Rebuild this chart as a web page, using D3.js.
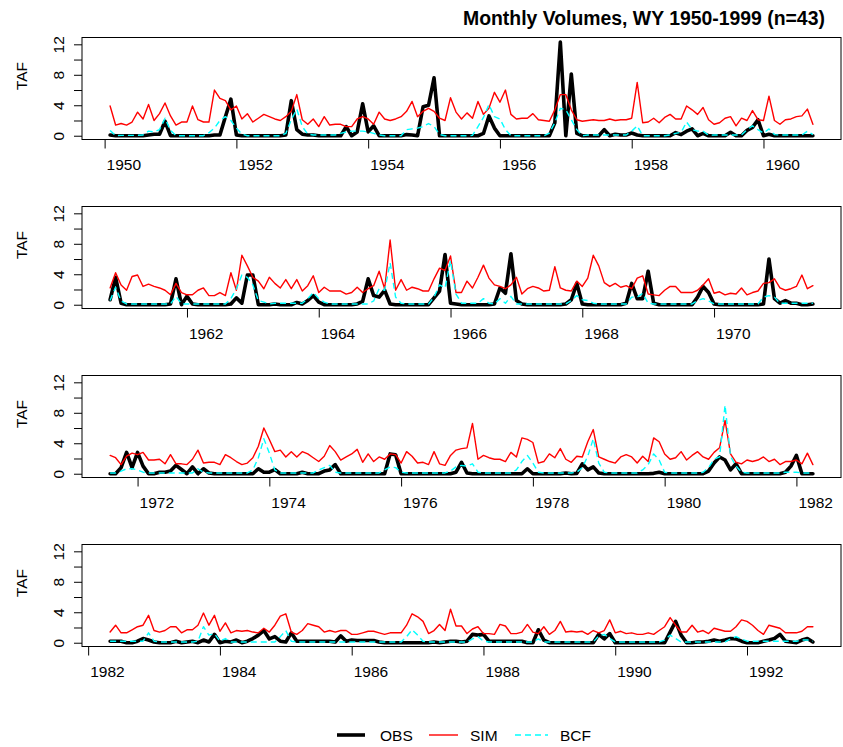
<!DOCTYPE html>
<html>
<head>
<meta charset="utf-8">
<script src="https://cdn.jsdelivr.net/npm/d3@7"></script>
<style>
  html, body { margin: 0; padding: 0; background: #fff; }
  svg { display: block; font-family: "Liberation Sans", Arial, sans-serif; }
</style>
</head>
<body>
<div id="chart"></div>
<script>
// monthly volumes (TAF), 129 months per panel
const panelStartYear  = [1950, 1960, 1971, 1982];
const panelStartMonth = [1, 10, 7, 4];
const xTickYears = [
  [1950, 1952, 1954, 1956, 1958, 1960],
  [1962, 1964, 1966, 1968, 1970],
  [1972, 1974, 1976, 1978, 1980, 1982],
  [1982, 1984, 1986, 1988, 1990, 1992]
];
const yTicks = [0, 2, 4, 6, 8, 10, 12];
const yLabels = [0, 4, 8, 12];
const yMax = 12.4;
const seriesNames = ['OBS', 'SIM', 'BCF'];

const obs1 = [0.1,0,0,0,0,0,0,0.1,0.2,0.2, 1.9,0,0,0,0,0,0,0,0,0.1,
  0.1,2.5,4.8,0.1,0,0,0,0,0,0, 0,0,0.1,4.6,0.8,0.2,0.1,0.1,0,0,
  0,0,0,1.2,0,0.5,4.2,0.5,1.3,0, 0,0,0,0,0.15,0.1,0,3.8,4.0,7.6,
  0,0,0,0,0,0,0,0,0.3,2.6, 1.0,0,0,0,0,0,0,0,0,0,
  0,1.7,12.3,0,8.1,0.3,0,0,0,0, 0.8,0,0.2,0.1,0.1,0.35,0.1,0,0,0,
  0,0,0,0.4,0.15,0.6,0.9,0,0.3,0, 0,0,0,0.45,0,0,0.7,1.1,2.1,0,
  0.2,0,0,0,0,0,0,0,0];
const sim1 = [3.9,1.4,1.6,1.4,1.8,3.1,2.2,4.1,2.0,2.9, 4.3,2.6,1.4,1.8,1.8,3.9,2.1,1.8,1.8,6.0,
  4.9,4.6,3.4,3.9,2.2,2.9,1.8,2.3,2.8,2.5, 2.2,2.0,2.5,3.2,5.4,2.1,1.5,2.2,1.2,2.5,
  1.4,1.5,1.5,1.2,1.2,2.2,2.5,2.2,1.5,3.1, 2.2,2.0,2.2,2.5,3.2,4.5,2.5,3.2,3.6,3.2,
  2.3,2.0,5.0,3.1,2.2,3.0,2.3,4.5,2.8,3.6, 5.7,4.4,6.0,2.8,2.2,2.3,2.3,2.9,2.1,2.0,
  1.9,3.4,5.4,5.4,3.4,2.1,1.9,2.0,2.1,2.0, 2.0,2.2,2.0,2.1,2.1,2.3,7.0,1.7,1.8,2.3,
  1.7,2.4,2.8,2.2,2.2,3.9,3.4,2.8,3.7,2.1, 1.5,1.7,2.3,2.5,1.3,2.3,2.0,3.3,2.1,2.0,
  5.2,2.0,1.5,2.1,2.2,2.5,2.6,3.5,1.5];
const bcf1 = [0.7,0,0.05,0.05,0.05,0.05,0.1,0.6,0.5,0.8, 2.3,0.7,0,0,0,0,0,0,0.4,1.0,
  2.0,2.5,2.0,1.0,0.2,0,0,0,0,0, 0,0,0.3,2.1,3.5,1.2,0.2,0.1,0.1,0.1,
  0.1,0.1,0.3,0.5,0.6,0.6,0.6,0.5,0.3,0.1, 0,0,0,0,0.8,0.9,1.0,1.2,1.6,1.2,
  0.15,0,0,0,0,0,0.05,1.2,2.4,4.1, 2.5,2.2,0.8,0,0,0,0,0,0,0,
  0.35,1.7,3.6,3.4,2.1,0.8,0,0.1,0.1,0.1, 0.1,0.1,0.1,0.1,0.1,0.6,1.3,0,0,0,
  0,0,0.1,0.3,0.45,1.8,0.8,0.6,0.6,0.05, 0.1,0.1,0.1,0.1,0.1,0.1,0.8,1.3,0.8,0.35,
  0.9,0.15,0.1,0.1,0.1,0.1,0.1,0.6,0.15];

const obs2 = [0.65,3.6,0.2,0,0,0,0,0,0,0, 0,0.1,3.4,0,1.1,0.1,0,0,0,0,
  0,0,0.1,0.9,0.2,3.9,3.9,0,0,0, 0.1,0,0,0,0.3,0.1,0.55,1.2,0.35,0,
  0,0,0,0,0,0.1,0.45,3.4,1.2,1.0, 1.9,0.1,0,0,0,0,0,0,0,0.9,
  1.8,6.6,0.2,0.1,0,0,0,0,0,0, 0.1,2.2,1.5,6.7,0.55,0.1,0,0,0,0,
  0,0,0,0.1,0.65,2.8,0.1,0,0,0, 0,0,0,0,0.2,2.8,0.8,0.8,4.4,0.2,
  0,0,0,0,0,0,0,1.0,2.4,1.6, 0.1,0,0,0,0,0,0,0,0,0.1,
  6.0,0.8,0.2,0.55,0.2,0.2,0,0,0.1];
const sim2 = [2.2,4.2,2.6,1.9,3.7,3.9,2.4,2.7,2.4,2.2, 1.9,1.3,2.8,1.6,1.3,1.3,1.9,2.2,1.2,1.2,
  1.6,1.2,4.2,1.9,6.5,5.1,3.6,3.1,2.1,3.6, 2.8,2.2,3.3,2.1,3.3,1.8,2.5,3.8,1.6,2.3,
  1.8,1.8,1.8,1.4,1.6,2.3,1.6,2.1,2.5,4.4, 2.1,8.5,1.9,3.3,1.9,2.3,2.1,1.8,1.8,3.4,
  4.8,4.5,6.4,1.6,1.6,3.1,2.2,3.6,5.2,3.5, 2.6,2.4,2.1,2.6,3.6,1.4,2.1,2.4,2.2,1.8,
  1.9,5.0,2.2,1.9,1.8,3.1,2.4,3.5,6.5,5.1, 2.9,2.4,2.8,2.3,2.5,2.1,3.5,3.8,1.4,1.3,
  1.2,1.9,2.4,2.4,1.6,1.6,1.6,1.9,2.6,3.4, 1.5,1.7,1.3,1.5,1.4,2.2,1.3,1.6,1.8,2.8,
  2.9,3.4,2.2,1.9,2.1,2.4,3.9,2.1,2.5];
const bcf2 = [0.55,2.3,0.5,0.1,0.1,0.1,0.1,0.1,0.1,0.1, 0.1,0.1,1.1,0.1,0.1,0.1,0.1,0.1,0.1,0.1,
  0.1,0.1,0.8,2.1,3.9,3.6,2.6,0.55,0.35,0.1, 0.2,0.2,0.2,0.2,0.2,0.2,0.8,1.6,0.8,0.35,
  0.1,0.1,0.1,0.1,0.1,0.1,0.1,0.1,0.5,2.1, 1.9,5.5,1.0,0.2,0.1,0.1,0.1,0.1,0.1,1.0,
  2.6,2.2,5.8,1.4,0.2,0.2,0.2,0.2,0.8,0.2, 0.1,0.8,0.2,1.1,0.1,0.1,0.1,0.1,0.1,0.1,
  0.1,0.1,0.1,0.1,0.55,1.2,0.65,0.55,0.2,0.1, 0.1,0.1,0.1,0.1,0.1,1.0,1.0,1.5,0.2,0.1,
  0.1,0.1,0.1,0.1,0.1,0.1,0.1,0.55,0.8,0.5, 0.1,0.1,0.1,0.1,0.1,0.1,0.1,0.1,0.1,1.0,
  1.2,1.0,0.2,0.2,0.2,0.2,0.2,0.2,0.2];

const obs3 = [0,0,0.8,2.8,0.8,2.8,1.0,0,0,0.2, 0.2,0.35,1.1,0.55,0,0.9,0,0.65,0.1,0,
  0,0,0,0,0,0,0,0.65,0.2,0.2, 0.55,0,0,0,0,0.2,0,0,0,0.35,
  0.5,1.2,0,0,0,0,0,0,0,0, 0,2.6,2.5,0,0,0,0,0,0,0,
  0,0,0,0.2,1.5,0.1,0,0,0,0, 0,0,0,0,0,0,0.65,0,0,0,
  0,0,0,0.1,0,0.05,1.3,0.5,0.9,0.1, 0,0,0,0,0,0,0,0,0,0.05,
  0.2,0,0,0,0,0,0,0,0,0.35, 1.4,2.2,1.8,0.5,1.3,0,0,0,0,0,
  0,0,0,0.2,1.0,2.4,0,0,0];
const sim3 = [2.4,2.1,1.2,2.3,2.7,2.5,2.8,1.8,1.8,1.9, 1.3,2.5,1.3,1.3,1.2,1.9,3.1,1.4,1.5,1.5,
  1.2,2.5,2.1,1.6,1.2,1.4,2.1,3.6,6.0,4.5, 2.9,3.1,2.2,2.9,2.2,2.9,2.6,2.1,1.6,2.3,
  3.7,2.9,1.8,2.2,2.6,3.2,1.5,2.6,1.6,2.2, 1.9,2.6,2.5,1.4,2.9,2.3,1.4,1.5,1.2,2.9,
  1.3,1.1,2.4,3.1,3.3,3.4,6.6,1.9,2.4,2.1, 1.9,1.9,1.6,2.8,2.2,4.7,4.5,4.1,1.4,1.6,
  2.6,2.1,3.3,1.9,1.5,2.3,2.2,4.2,5.8,2.2, 1.9,1.6,1.4,2.2,2.5,2.2,1.4,2.3,1.6,4.7,
  4.2,2.6,1.9,2.1,2.9,1.8,2.4,2.9,2.2,1.9, 2.8,3.4,7.0,2.6,1.5,1.3,1.8,1.6,1.8,2.2,
  1.6,1.9,1.2,1.6,1.6,1.8,1.3,2.7,1.2];
const bcf3 = [0.1,0.1,0.35,0.65,0.65,0.5,0.2,0.1,0.1,0.1, 0.1,0.1,0.1,0.1,0.1,0.1,0.65,0.2,0.1,0.1,
  0.1,0.1,0.1,0.1,0.1,0.1,0.5,2.1,4.6,2.7, 0.5,0.1,0.1,0.1,0.1,0.1,0.1,0.1,0.5,0.8,
  1.1,0.2,0.1,0.1,0.1,0.1,0.1,0.1,0.1,0.1, 0.5,0.9,0.8,0.2,0.1,0.1,0.1,0.1,0.1,0.1,
  0.1,0.1,0.35,0.9,1.1,1.0,1.3,0.2,0.1,0.1, 0.1,0.1,0.1,0.1,0.5,1.6,2.4,1.4,0.2,0.1,
  0.1,0.1,0.1,0.1,0.1,0.2,0.8,2.3,4.6,1.4, 0.2,0.1,0.1,0.1,0.1,0.1,0.1,0.5,1.2,2.6,
  1.8,0.2,0.1,0.1,0.1,0.1,0.1,0.1,0.2,0.8, 1.9,2.2,9.0,2.3,1.0,0.2,0.1,0.1,0.1,0.1,
  0.1,0.1,0.1,0.2,0.2,0.2,0.1,0.1,0.1];

const obs4 = [0.2,0.2,0.2,0,0,0.2,0.55,0.35,0.1,0, 0,0,0.2,0,0.1,0.2,0,0.35,0.1,1.1,
  0,0.2,0.1,0.35,0,0.2,0.55,1.0,1.6,0.5, 0.8,0.2,0.1,1.3,0.2,0.2,0.2,0.2,0.2,0.2,
  0.2,0.1,0.9,0.2,0.35,0.3,0.3,0.3,0.3,0.1, 0,0,0,0,0,0,0,0,0,0.1,
  0,0.1,0.2,0.2,0.1,0.2,1.1,1.0,1.1,0.2, 0.2,0.2,0.2,0.2,0.2,0.2,0,0,1.7,0.35,
  0,0,0,0,0,0,0,0,0,1.1, 0.5,1.2,0,0,0,0,0,0,0,0,
  0,0,1.4,2.8,1.0,0,0,0.1,0.1,0.2, 0.35,0.2,0.35,0.55,0.5,0.2,0,0,0,0.2,
  0.35,0.55,1.1,0.2,0.1,0,0.35,0.55,0.1];
const sim4 = [1.4,2.3,1.3,1.3,1.7,2.1,2.3,3.6,1.6,1.4, 1.6,2.1,2.1,1.3,1.7,1.7,2.3,3.9,2.3,3.6,
  1.5,2.6,1.3,1.6,1.5,1.6,1.4,1.3,1.9,1.4, 2.3,3.5,3.8,1.4,1.1,1.6,2.5,2.3,2.1,1.4,
  1.6,1.4,1.6,1.6,1.1,1.1,1.3,1.5,1.5,1.3, 1.1,1.3,1.3,1.3,2.3,3.8,3.4,2.8,1.2,1.6,
  2.4,1.6,4.4,2.2,2.2,1.2,1.8,2.1,1.2,1.2, 1.1,2.4,2.2,1.2,1.2,1.4,2.4,1.4,1.2,2.1,
  1.1,1.6,2.8,1.4,1.5,1.4,1.5,1.1,1.6,1.3, 1.6,3.0,1.3,1.5,1.2,1.3,1.1,1.1,1.3,1.1,
  1.6,2.1,3.3,2.3,1.4,1.4,2.3,1.4,1.6,1.2, 1.9,1.7,1.5,1.5,2.1,3.0,2.8,2.3,1.6,1.1,
  2.3,2.1,1.9,1.3,1.3,1.3,1.5,2.1,2.1];
const bcf4 = [0.2,0.2,0.2,0.2,0.2,0.2,0.2,1.3,0.2,0.1, 0.1,0.1,0.1,0.1,0.1,0.1,0.2,2.1,1.0,1.2,
  0.2,0.55,0.1,0.1,0.1,0.1,0.1,0.1,0.1,0.1, 0.1,0.8,1.6,0.2,0.1,0.1,0.1,0.1,0.1,0.1,
  0.1,0.1,0.1,0.1,0.1,0.1,0.1,0.1,0.1,0.1, 0.1,0.1,0.1,0.1,0.8,1.7,1.0,0.2,0.1,0.1,
  0.1,0.1,0.1,0.1,0.1,0.1,0.5,0.8,0.2,0.1, 0.1,0.1,0.1,0.1,0.1,0.1,0.1,0.1,0.5,0.1,
  0.1,0.1,0.1,0.1,0.1,0.1,0.1,0.1,0.1,0.9, 1.1,0.55,0.1,0.1,0.1,0.1,0.1,0.1,0.1,0.1,
  0.1,0.35,1.0,0.55,0.1,0.1,0.1,0.1,0.1,0.1, 0.1,0.1,0.1,0.5,0.8,0.5,0.2,0.2,0.2,0.2,
  0.2,0.2,0.2,0.2,0.2,0.2,0.35,0.35,0.2];

const panels = [
  { obs: obs1, sim: sim1, bcf: bcf1 },
  { obs: obs2, sim: sim2, bcf: bcf2 },
  { obs: obs3, sim: sim3, bcf: bcf3 },
  { obs: obs4, sim: sim4, bcf: bcf4 }
];

const W = 843, H = 747;
const left = 82, right = 841;
const top0 = 37.5, step = 169, boxH = 102;
const FONT = 15.5;

const styles = {
  OBS: { color: '#000000', width: 3.6, dash: null },
  SIM: { color: '#ff0000', width: 1.4, dash: null },
  BCF: { color: '#00ffff', width: 1.4, dash: '6,4' }
};

const svg = d3.select('#chart').append('svg')
  .attr('width', W).attr('height', H)
  .attr('viewBox', `0 0 ${W} ${H}`);

svg.append('text')
  .attr('x', 463).attr('y', 25)
  .attr('font-size', 19.4).attr('font-weight', 'bold')
  .text('Monthly Volumes, WY 1950-1999 (n=43)');

panels.forEach((p, k) => {
  const top = top0 + step * k, bottom = top + boxH;
  const t0 = panelStartYear[k] + panelStartMonth[k] / 12;
  const t1 = t0 + (p.obs.length - 1) / 12;
  const pad = (t1 - t0) * 0.04;
  const x = d3.scaleLinear().domain([t0 - pad, t1 + pad]).range([left, right]);
  const y = d3.scaleLinear().domain([-yMax * 0.04, yMax * 1.04]).range([bottom, top]);

  const g = svg.append('g');

  // x axis
  const xa = g.append('g').attr('transform', `translate(0,${bottom})`)
    .call(d3.axisBottom(x).tickValues(xTickYears[k]).tickSize(9).tickFormat(d3.format('d')));
  xa.select('.domain').remove();
  xa.selectAll('line').attr('stroke', '#000');
  xa.selectAll('text')
    .attr('text-anchor', 'start').attr('x', 1.5).attr('y', 30).attr('dy', null)
    .attr('font-size', FONT).attr('font-family', null).attr('fill', '#000');

  // y axis
  const ya = g.append('g').attr('transform', `translate(${left},0)`)
    .call(d3.axisLeft(y).tickValues(yTicks).tickSize(8)
      .tickFormat(d => yLabels.includes(d) ? d : ''));
  ya.select('.domain').remove();
  ya.selectAll('line').attr('stroke', '#000');
  ya.selectAll('text')
    .attr('x', null).attr('dy', null)
    .attr('text-anchor', 'middle').attr('font-size', FONT).attr('font-family', null).attr('fill', '#000')
    .attr('transform', function () {
      const yy = d3.select(this.parentNode).attr('transform').match(/,([\d.\-]+)\)/);
      return `translate(${64 - left},0) rotate(-90)`;
    });

  g.append('text')
    .attr('transform', `translate(26.5,${top + 38.5}) rotate(-90)`)
    .attr('text-anchor', 'middle').attr('font-size', FONT)
    .text('TAF');

  const clipId = 'clip' + k;
  svg.append('clipPath').attr('id', clipId).append('rect')
    .attr('x', left).attr('y', top).attr('width', right - left).attr('height', boxH);

  const line = d3.line().x((d, i) => x(t0 + i / 12)).y(d => y(d));
  const plot = g.append('g').attr('clip-path', `url(#${clipId})`);
  [['OBS', p.obs], ['SIM', p.sim], ['BCF', p.bcf]].forEach(([name, vals]) => {
    const s = styles[name];
    plot.append('path').datum(vals)
      .attr('d', line)
      .attr('fill', 'none')
      .attr('stroke', s.color)
      .attr('stroke-width', s.width)
      .attr('stroke-linejoin', 'round')
      .attr('stroke-linecap', s.dash ? 'butt' : 'round')
      .attr('stroke-dasharray', s.dash);
  });

  g.append('rect')
    .attr('x', left).attr('y', top).attr('width', right - left).attr('height', boxH)
    .attr('fill', 'none').attr('stroke', '#000').attr('stroke-width', 1);
});

// legend
const legY = 735;
const legendX = { OBS: [337, 365, 380], SIM: [429, 458, 470], BCF: [515, 548, 560] };
const leg = svg.append('g');
seriesNames.forEach(name => {
  const s = styles[name];
  const [x1, x2, tx] = legendX[name];
  leg.append('line')
    .attr('x1', x1).attr('x2', x2).attr('y1', legY).attr('y2', legY)
    .attr('stroke', s.color).attr('stroke-width', s.width)
    .attr('stroke-dasharray', s.dash);
  leg.append('text')
    .attr('x', tx).attr('y', legY + 5.5)
    .attr('font-size', FONT)
    .text(name);
});
</script>
</body>
</html>
